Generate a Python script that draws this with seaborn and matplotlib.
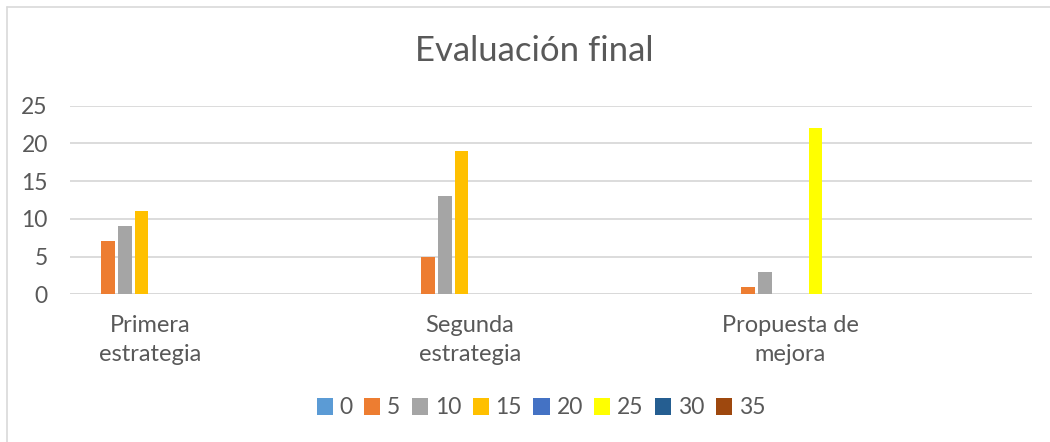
# Recreate "Evaluación final" clustered bar chart (Excel style) with seaborn
import pandas as pd
import matplotlib
matplotlib.use('Agg')
import matplotlib.pyplot as plt
import seaborn as sns
from matplotlib.lines import Line2D

# --- Data ---
categories = ["Primera\nestrategia", "Segunda\nestrategia", "Propuesta de\nmejora"]
series_names = ["0", "5", "10", "15", "20", "25", "30", "35"]
s0 = [0, 0, 0]
s5 = [7, 5, 1]
s10 = [9, 13, 3]
s15 = [11, 19, 0]
s20 = [0, 0, 0]
s25 = [0, 0, 22]
s30 = [0, 0, 0]
s35 = [0, 0, 0]
y_ticks = [0, 5, 10, 15, 20, 25]
colors = ["#5B9BD5", "#ED7D31", "#A5A5A5", "#FFC000",
          "#4472C4", "#FFFF00", "#255E91", "#9E480E"]

# build long-form table for seaborn
rows = []
for name, vals in zip(series_names, [s0, s5, s10, s15, s20, s25, s30, s35]):
    for cat, v in zip(categories, vals):
        rows.append({"categoria": cat, "serie": name, "valor": v})
data = pd.DataFrame(rows)

sns.set_style("white")
plt.rcParams['font.family'] = ['Lato', 'DejaVu Sans']
text_color = "#595959"

W, H = 1050, 442
fig = plt.figure(figsize=(W / 100, H / 100), dpi=100)
ax = fig.add_axes([70 / W, 1 - 294.3 / H, (1032 - 70) / W, (294.3 - 105.7) / H])

sns.barplot(data=data, x="categoria", y="valor", hue="serie",
            order=categories, hue_order=series_names, palette=colors,
            saturation=1, width=0.42, gap=0.2, linewidth=0, ax=ax)

# axes look like Excel
ax.set_ylim(0, 25)
ax.set_xlim(-0.25, 2.756)
ax.set_yticks(y_ticks)
ax.yaxis.grid(True, color="#D9D9D9", linewidth=1.3)
ax.set_axisbelow(True)
for side in ["top", "right", "left", "bottom"]:
    ax.spines[side].set_visible(False)
ax.axhline(0, color="#D9D9D9", linewidth=1.3, zorder=0.5)
ax.set_xlabel("")
ax.set_ylabel("")
ax.tick_params(axis="y", length=0, pad=16, labelsize=16.5, labelcolor=text_color)
ax.tick_params(axis="x", length=0, pad=15, labelsize=17, labelcolor=text_color)
ax.set_xticks(range(len(categories)))
ax.set_xticklabels(categories, linespacing=1.45)

# legend under the chart
sns.move_legend(ax, "center", bbox_to_anchor=(541 / W, 1 - 408 / H),
                bbox_transform=fig.transFigure, ncol=8, frameon=False,
                title=None, fontsize=16.5, handlelength=0.7, handleheight=0.7,
                handletextpad=0.3, columnspacing=0.5, labelcolor=text_color)

# title
fig.text(534 / W, 1 - 51 / H, "Evaluación final", ha="center", va="center",
         fontsize=25, color=text_color)

# chart area border (top and left visible)
fig.add_artist(Line2D([6.5 / W, 6.5 / W], [0, 1 - 6.5 / H], transform=fig.transFigure,
                      color="#D9D9D9", linewidth=1.2))
fig.add_artist(Line2D([6.5 / W, 1], [1 - 6.5 / H, 1 - 6.5 / H], transform=fig.transFigure,
                      color="#D9D9D9", linewidth=1.2))

plt.savefig("out.png", dpi=100, facecolor="white")
